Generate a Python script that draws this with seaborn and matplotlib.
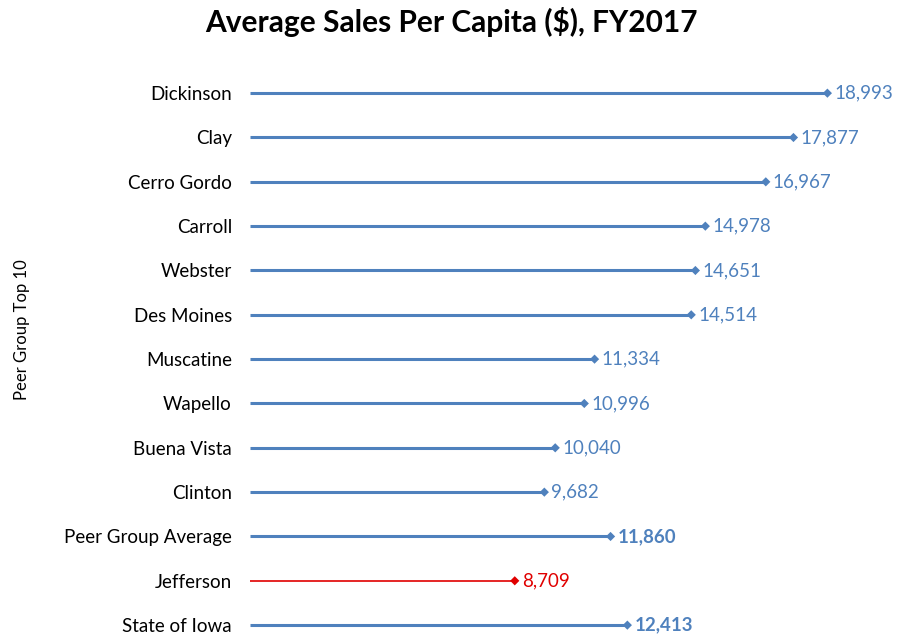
import matplotlib
matplotlib.use("Agg")
import matplotlib.pyplot as plt
import seaborn as sns
import pandas as pd

counties = ["Dickinson", "Clay", "Cerro Gordo", "Carroll", "Webster", "Des Moines",
            "Muscatine", "Wapello", "Buena Vista", "Clinton",
            "Peer Group Average", "Jefferson", "State of Iowa"]
sales = [18993, 17877, 16967, 14978, 14651, 14514, 11334, 10996, 10040, 9682,
         11860, 8709, 12413]
groups = ["peer"] * 10 + ["avg", "focus", "avg"]

BLUE = "#4F81BD"
RED = "#E00000"
palette = {"peer": BLUE, "avg": BLUE, "focus": RED}

df = pd.DataFrame({"county": counties, "sales": sales, "group": groups})

sns.set_theme(style="white")
plt.rcParams["font.family"] = ["Lato", "DejaVu Sans"]
plt.rcParams["text.color"] = "black"

fig = plt.figure(figsize=(9.06, 6.35), dpi=100)
ax = fig.add_axes([250 / 906, 1 - 634 / 635, 608 / 906, 563 / 635])

# stems from zero to each value
for i, row in df.iterrows():
    c = palette[row["group"]]
    lw = 1.2 if row["group"] == "focus" else 2.2
    ax.hlines(i, 0, row["sales"], color=c, lw=lw, zorder=2)

sns.scatterplot(data=df, x="sales", y="county", hue="group", palette=palette,
                marker="D", s=22, linewidth=0, legend=False, ax=ax, zorder=3)

for i, row in df.iterrows():
    c = palette[row["group"]]
    weight = "bold" if row["group"] == "avg" else "normal"
    ax.text(row["sales"] + 230, i, f"{row['sales']:,}", color=c, fontsize=13.5,
            fontweight=weight, va="center", ha="left")

ax.set_xlim(0, 20000)
ax.set_ylim(12.2, -0.5)
ax.set_xticks([])
ax.set_xlabel("")
ax.set_ylabel("")
ax.tick_params(axis="y", length=0, pad=13, labelsize=13.5, labelcolor="black")
for s in ax.spines.values():
    s.set_visible(False)

fig.text(22 / 906, 1 - 330 / 635, "Peer Group Top 10", rotation=90,
         fontsize=12, ha="center", va="center", color="black")
fig.text(451 / 906, 1 - 22 / 635, "Average Sales Per Capita ($), FY2017",
         fontsize=21.5, fontweight="bold", ha="center", va="center", color="black")

fig.savefig("out.png", dpi=100)
